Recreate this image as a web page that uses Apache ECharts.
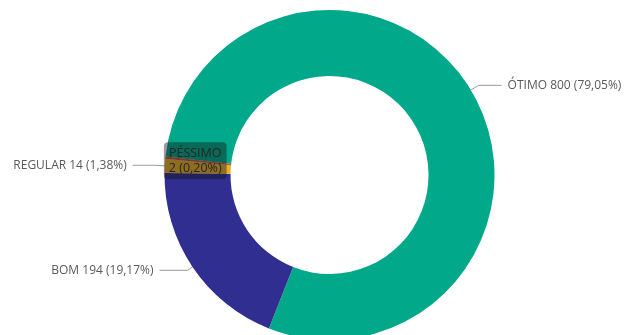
<!DOCTYPE html>
<html><head><meta charset="utf-8">
<script src="https://cdn.jsdelivr.net/npm/echarts@6/dist/echarts.min.js"></script>
<style>html,body{margin:0;padding:0;background:#fff}#c{width:626px;height:335px}</style>
</head><body><div id="c"></div>
<script>
const categories = ['ÓTIMO', 'BOM', 'REGULAR', 'PÉSSIMO'];
const values = [800, 194, 14, 2];
const percentLabels = ['79,05%', '19,17%', '1,38%', '0,20%'];
const colors = ['#01A88A', '#312E91', '#E6B02A', '#C9513E'];
const lineLengths = [[9, 23], [6, 28], [10, 22], [10, 20]];

const chart = echarts.init(document.getElementById('c'), null, {renderer: 'canvas'});
const data = categories.map((name, i) => {
  const item = {name, value: values[i], itemStyle: {color: colors[i]},
    labelLine: {length: lineLengths[i][0], length2: lineLengths[i][1]}};
  if (name === 'PÉSSIMO') {
    item.label = {
      position: 'inside',
      formatter: p => p.name + '\n' + p.value + ' (' + percentLabels[p.dataIndex] + ')',
      color: '#262626',
      fontSize: 12.5,
      lineHeight: 15,
      backgroundColor: 'rgba(20,20,20,0.42)',
      borderRadius: 4,
      padding: [4, 5, 3, 5],
      align: 'left'
    };
    item.labelLine = {show: false};
  }
  return item;
});
chart.setOption({
  animation: false,
  series: [{
    type: 'pie',
    center: [329.5, 175],
    radius: [99, 165],
    startAngle: 173.6,
    clockwise: true,
    avoidLabelOverlap: false,
    data,
    label: {
      show: true,
      position: 'outside',
      formatter: p => p.name + ' ' + p.value + ' (' + percentLabels[p.dataIndex] + ')',
      color: '#5a5a5a',
      fontSize: 12,
      fontFamily: 'Open Sans',
      distanceToLabelLine: 6
    },
    labelLine: {
      show: true,
      lineStyle: {color: '#9a9a9a', width: 1}
    },
    emphasis: {disabled: true}
  }]
});
</script></body></html>
